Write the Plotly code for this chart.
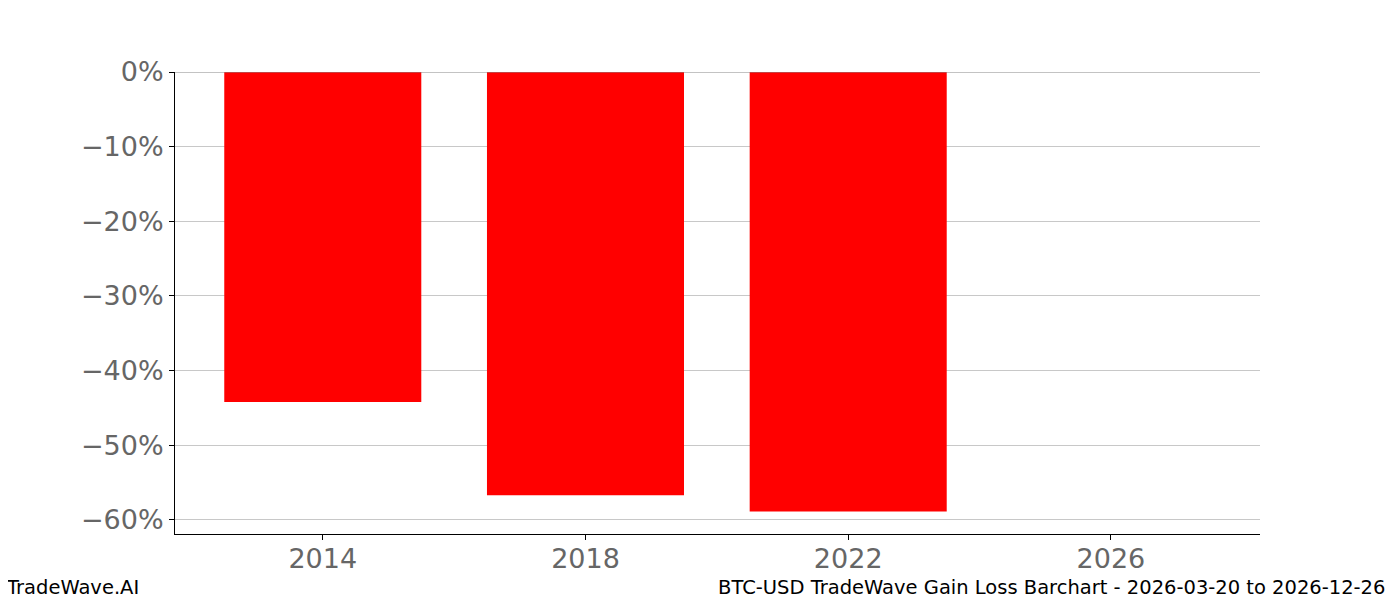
import plotly.graph_objects as go

years = [2014, 2018, 2022]
changes = [-0.442, -0.567, -0.589]
tick_years = [2014, 2018, 2022, 2026]
tick_pcts = [0, -0.1, -0.2, -0.3, -0.4, -0.5, -0.6]
tick_pct_labels = ["0%", "\u221210%", "\u221220%", "\u221230%", "\u221240%", "\u221250%", "\u221260%"]

fig = go.Figure(go.Bar(x=years, y=changes, width=3, marker_color="red", marker_line_width=0))

fig.update_layout(
    width=1400, height=600,
    paper_bgcolor="white", plot_bgcolor="white",
    margin=dict(l=167, r=148, t=64, b=74),
    font=dict(family="DejaVu Sans", color="#666666"),
    showlegend=False,
    xaxis=dict(range=[2011.75, 2028.27], tickvals=tick_years, ticks="outside", ticklen=5,
               tickcolor="black", showgrid=False, zeroline=False, showline=True,
               linecolor="black", linewidth=1, tickfont=dict(size=27), ticklabelstandoff=-4),
    yaxis=dict(range=[-0.619, 0], tickvals=tick_pcts, ticktext=tick_pct_labels, ticks="outside",
               ticklen=5, tickcolor="black", showgrid=True, gridcolor="#c8c8c8", zeroline=False,
               showline=True, linecolor="black", linewidth=1, tickfont=dict(size=27)),
    shapes=[dict(type="line", xref="paper", yref="y", x0=0, x1=1, y0=0, y1=0,
                 line=dict(color="#888888", width=1))],
    annotations=[
        dict(text="TradeWave.AI", xref="paper", yref="paper", x=-0.158, y=-0.115,
             xanchor="left", yanchor="middle", showarrow=False, font=dict(size=19.5, color="black")),
        dict(text="BTC-USD TradeWave Gain Loss Barchart - 2026-03-20 to 2026-12-26", xref="paper",
             yref="paper", x=1.117, y=-0.115, xanchor="right", yanchor="middle", showarrow=False,
             font=dict(size=19.5, color="black")),
    ],
)
fig.write_html("out.html")
